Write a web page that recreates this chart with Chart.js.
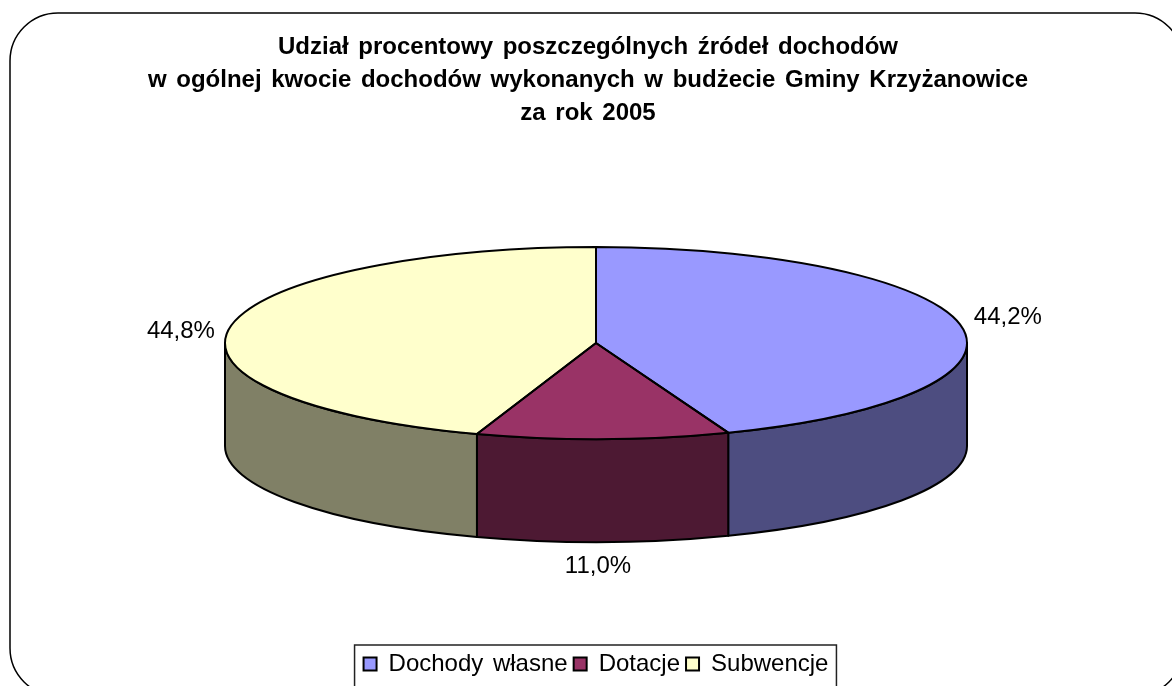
<!DOCTYPE html>
<html lang="pl">
<head>
<meta charset="utf-8">
<title>Dochody Gminy Krzyżanowice 2005</title>
<script src="https://cdn.jsdelivr.net/npm/chart.js@4"></script>
<style>
  html, body { margin: 0; background: #fff; }
  canvas { display: block; }
</style>
</head>
<body>
<canvas id="wykres" width="1172" height="686"></canvas>
<script>
const tytul = [
  "Udział procentowy poszczególnych źródeł dochodów",
  "w ogólnej kwocie dochodów wykonanych w budżecie Gminy Krzyżanowice",
  "za rok 2005"
];
const kategorie = ["Dochody własne", "Dotacje", "Subwencje"];
const wartosci = [44.2, 11.0, 44.8];
const kolory = ["#9999FF", "#993366", "#FFFFCC"];
const kolory_scian = ["#4D4D80", "#4D1933", "#808066"];

// przesuniecia etykiet wzgledem krawedzi placka
const przesuniecia_etykiet = [[13, -8], [-5, 24], [-15, 4]];

const promien = 371;
const splaszczenie = 96 / 371;
const gora_placka = 247;
const wysokosc_sciany = 103;
const czcionka = "'Liberation Sans', Arial, sans-serif";

const liniaEkranowa = (ctx, szerokosc) => {
  ctx.save();
  ctx.setTransform(1, 0, 0, 1, 0, 0);
  ctx.lineWidth = szerokosc;
  ctx.strokeStyle = "#000";
  ctx.lineJoin = "round";
  ctx.stroke();
  ctx.restore();
};

const plaskiPlacek = {
  id: "plaskiPlacek",
  beforeLayout(chart) {
    // w oryginale odstepy miedzy slowami sa szersze
    chart.ctx.wordSpacing = "3px";
  },
  afterLayout(chart) {
    // tytul lezy nieco na lewo od srodka placka
    chart.titleBlock.left -= 8;
    chart.titleBlock.right -= 8;
  },
  beforeDraw(chart) {
    const ctx = chart.ctx;
    // ramka wykresu, wychodzi poza prawa i dolna krawedz kadru
    ctx.save();
    ctx.beginPath();
    ctx.roundRect(10, 13, 1173, 683, 48);
    ctx.lineWidth = 1.5;
    ctx.strokeStyle = "#000";
    ctx.stroke();
    ctx.restore();
  },
  beforeDatasetsDraw(chart) {
    const ctx = chart.ctx;
    const luki = chart.getDatasetMeta(0).data;
    const srodek = luki[0];
    ctx.save();
    ctx.translate(0, gora_placka + promien * splaszczenie);
    ctx.scale(1, splaszczenie);
    ctx.translate(0, -srodek.y);

    // sciany boczne, tylko przednia polowa
    luki.forEach((luk, i) => {
      const od = Math.max(luk.startAngle, 0);
      const ko = Math.min(luk.endAngle, Math.PI);
      if (od >= ko) return;
      ctx.beginPath();
      ctx.arc(luk.x, luk.y, luk.outerRadius, od, ko);
      ctx.arc(luk.x, luk.y + wysokosc_sciany / splaszczenie, luk.outerRadius, ko, od, true);
      ctx.closePath();
      ctx.fillStyle = kolory_scian[i];
      ctx.fill();
      liniaEkranowa(ctx, 2);
    });
  },
  afterDatasetsDraw(chart) {
    const ctx = chart.ctx;
    const luki = chart.getDatasetMeta(0).data;
    luki.forEach((luk) => {
      ctx.beginPath();
      ctx.moveTo(luk.x, luk.y);
      ctx.arc(luk.x, luk.y, luk.outerRadius, luk.startAngle, luk.endAngle);
      ctx.closePath();
      liniaEkranowa(ctx, 2);
    });
    ctx.restore();

    // etykiety z wartosciami
    const srodek_y = gora_placka + promien * splaszczenie;
    ctx.save();
    ctx.font = "24px " + czcionka;
    ctx.fillStyle = "#000";
    ctx.textBaseline = "middle";
    luki.forEach((luk, i) => {
      const kat = (luk.startAngle + luk.endAngle) / 2;
      const x = luk.x + Math.cos(kat) * luk.outerRadius;
      let y = srodek_y + Math.sin(kat) * luk.outerRadius * splaszczenie;
      if (Math.sin(kat) > 0.5) y += wysokosc_sciany;
      ctx.textAlign = Math.cos(kat) > 0.1 ? "left" : Math.cos(kat) < -0.1 ? "right" : "center";
      const tekst = wartosci[i].toFixed(1).replace(".", ",") + "%";
      ctx.fillText(tekst, x + przesuniecia_etykiet[i][0], y + przesuniecia_etykiet[i][1]);
    });
    ctx.restore();
  },
  afterDraw(chart) {
    const ctx = chart.ctx;
    const pola = chart.legend.legendHitBoxes;
    const lewa = pola[0].left - 9;
    const prawa = pola[pola.length - 1].left + pola[pola.length - 1].width + 8;
    ctx.save();
    ctx.lineWidth = 1.5;
    ctx.strokeStyle = "#222";
    ctx.strokeRect(lewa, chart.legend.top - 1, prawa - lewa, chart.legend.height + 14);
    ctx.restore();
  }
};

new Chart(document.getElementById("wykres"), {
  type: "pie",
  data: {
    labels: kategorie,
    datasets: [{
      data: wartosci,
      backgroundColor: kolory,
      borderWidth: 0,
      radius: promien,
      clip: false
    }]
  },
  options: {
    responsive: false,
    animation: false,
    events: [],
    layout: { padding: { left: 20 } },
    plugins: {
      tooltip: { enabled: false },
      title: {
        display: true,
        text: tytul,
        color: "#000",
        font: { family: czcionka, size: 24, weight: "bold", lineHeight: 1.375 },
        padding: { top: 31, bottom: 10 }
      },
      legend: {
        position: "bottom",
        onClick: null,
        labels: {
          color: "#000",
          font: { family: czcionka, size: 24 },
          boxWidth: 13,
          boxHeight: 13,
          padding: 6,
          generateLabels(chart) {
            return kategorie.map((nazwa, i) => ({
              text: nazwa,
              fillStyle: kolory[i],
              strokeStyle: "#000",
              lineWidth: 2,
              index: i
            }));
          }
        }
      }
    }
  },
  plugins: [plaskiPlacek]
});
</script>
</body>
</html>
